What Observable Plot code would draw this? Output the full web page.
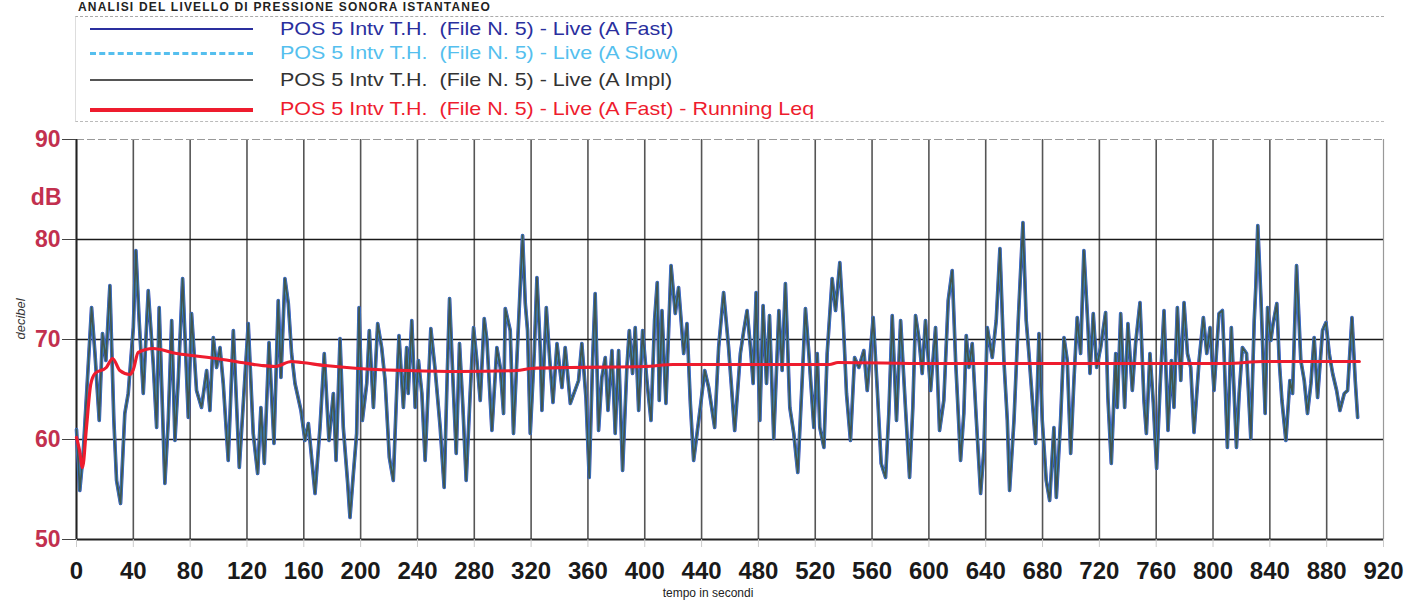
<!DOCTYPE html>
<html><head><meta charset="utf-8">
<script src="https://cdn.jsdelivr.net/npm/d3@7"></script>
<script src="https://cdn.jsdelivr.net/npm/@observablehq/plot@0.6"></script>
<style>
body{margin:0;background:#fff;font-family:"Liberation Sans",Arial,sans-serif;}
#wrap{position:relative;width:1406px;height:603px;overflow:hidden;background:#fff}
#head{position:relative;width:1406px;height:125px}
#title{position:absolute;left:78px;top:1px;font-size:12px;line-height:13px;font-weight:bold;color:#222;white-space:nowrap;letter-spacing:1.2px}
#legend{position:absolute;left:75px;top:16px;width:1308px;height:104px;border-top:1px dashed #aaa;border-bottom:1px dashed #bbb;border-left:1px solid #ddd}
.row{position:absolute;left:0;height:22px;width:900px}
.sw{position:absolute;left:14px;width:163px;top:10px}
.lb{position:absolute;left:204px;top:0;font-size:19px;white-space:nowrap;line-height:22px;transform:scaleX(1.13);transform-origin:left center}
</style></head>
<body><div id="wrap">
<div id="head">
  <div id="title">ANALISI DEL LIVELLO DI PRESSIONE SONORA ISTANTANEO</div>
  <div id="legend"></div>
</div>
<div id="chart"></div>
</div>
<script>
// series names
const seriesNames = [
  "POS 5 Intv T.H.  (File N. 5) - Live (A Fast)",
  "POS 5 Intv T.H.  (File N. 5) - Live (A Slow)",
  "POS 5 Intv T.H.  (File N. 5) - Live (A Impl)",
  "POS 5 Intv T.H.  (File N. 5) - Live (A Fast) - Running Leq"
];
const seriesColors = ["#2a2f9e", "#55bfee", "#444444", "#ee1c2e"];

// time (s) of readings of the instantaneous level trace
const tTrace = [0,2.3,4.7,10.6,13,16,18.3,20.7,23.5,26.3,28.2,31,34,36.4,40,41.8,44.1,47,50.5,54,56.4,58.2,62.2,64.6,67,69.3,71.6,74.7,78.7,81,84.5,88,91.6,93.9,96.3,98.6,101,103.3,106.8,110.4,114.6,
120.9,124.4,127.5,129.8,132.2,135.5,139,142,143.9,146.7,149.1,151.4,153.8,158,160.8,163.2,167.9,171.4,174.4,177.7,180.8,182.7,185.5,187.8,190.9,192.5,194.9,197.2,198.9,201.2,204.3,206.1,209,212,214.8,217.2,220.2,223,225.4,227,230.1,232.4,
233.5,236,238.4,240.7,243.1,245.4,249.4,252.5,256,258.8,260.7,262.6,265.4,267.3,269.6,272,274.3,277.1,279.5,281.8,284.2,287,288.9,292.4,295.9,298.3,300.6,301.8,305.3,307.6,310.7,314,315.9,317.5,319.4,322.2,324.1,326.4,327.6,330.7,333,335.4,338.2,341.7,344,347.6,
353.4,355.7,358.6,360.9,363.3,365.1,367.5,369.8,372.2,374.1,376.9,379.2,381.6,384.4,387.4,389.1,391.4,393.3,395.7,398.5,401.5,404.4,406.9,408.8,410.2,412.1,414.9,418.5,421.5,423.8,427.4,429.7,432.1,434.4,436.8,439.1,442.2,445,449.2,452,455.5,459,463.3,
467.3,469.7,472,474.4,476.3,478.4,481,483.3,485.7,487.8,490.8,494.4,496.7,499,502.1,504.9,507.7,510.8,513.1,515.5,519,521.4,523.2,526.1,528.4,531.9,534.3,537.3,539.7,542,544.8,547.7,550.7,554.2,556.6,560.8,563.6,566.4,569.5,571.8,574.2,577.2,580.1,
583.5,586.4,588.7,590.6,592.9,595.3,597.6,601.2,604.7,607.5,610.5,613.6,616.4,618.8,622.3,624.6,626.3,628.2,630.5,633.3,636.4,638.7,641.1,644.6,647.4,650,652.8,655.2,656.8,659.9,662.9,666.2,668.5,670.4,673.2,675.1,677.5,679.8,682.6,685,688,689.7,692.7,695.1,697.4,
699.8,702.1,704.4,706.8,709.1,712,713.4,715.7,718.1,720.9,724.4,726,728.4,731.5,732.6,735,737.8,740.1,743.2,745.5,748.6,751.4,753.1,755.6,758,760.3,762.7,765.5,768.3,770.7,772.5,774.9,777.3,779.6,782,784.3,786.6,790.2,793.2,795.6,797.9,800.7,804.2,806.6,807.8,810.1,812.9,
816.5,818.4,820.7,823.6,826.6,829,830.1,831.5,833.7,836.7,838.4,840.7,842.3,844.9,846.6,848.5,851.3,854.1,856,858.8,861.8,864.2,866.5,868.9,871.2,873.6,877.1,879.5,881.8,884.2,887,889.3,892.4,894.7,897.8,900.1,901.8];

// dB readings (A Fast / A Slow / A Impl overlap at this scale: same readings)
const levelTrace = [61.0,54.9,58.6,73.2,68.6,61.9,70.6,67.9,75.4,61.9,55.9,53.6,62.6,64.6,71.2,78.9,71.9,64.6,74.9,67.6,61.2,73.2,55.6,61.9,71.9,59.9,65.9,76.1,62.2,72.6,64.9,63.2,66.9,62.9,70.2,67.2,69.2,65.6,57.9,70.9,57.2,
71.6,60.6,56.6,63.2,57.6,69.7,59.6,73.9,66.2,76.1,73.6,68.6,65.6,62.9,59.9,61.6,54.6,61.2,68.6,59.9,64.6,57.9,70.1,61.2,55.6,52.2,56.6,60.6,73.2,61.9,65.6,70.9,63.2,71.6,69.2,65.9,58.2,55.9,64.9,70.4,63.2,69.2,
64.6,71.9,63.2,67.9,64.6,57.9,71.1,66.9,61.2,55.2,65.2,74.1,64.6,58.6,69.6,63.2,55.9,64.6,71.2,67.9,63.9,72.1,69.9,60.9,69.2,67.2,62.6,73.1,70.9,60.6,70.2,80.4,73.6,70.9,60.6,68.6,76.2,69.2,62.9,73.2,68.2,63.7,69.6,65.2,69.2,63.6,
65.9,69.6,64.2,56.2,67.9,74.6,60.9,66.2,68.2,62.9,68.9,60.6,68.9,56.9,67.2,70.9,66.6,71.2,62.9,70.9,65.9,61.9,71.9,75.7,63.9,72.9,63.6,77.4,72.6,75.2,68.6,71.6,63.6,57.9,60.6,63.2,66.9,65.2,61.2,69.2,74.7,69.2,60.9,
68.6,70.9,72.9,69.2,65.6,74.7,61.9,73.4,65.6,72.4,60.1,72.9,66.9,75.6,63.2,60.6,56.7,65.9,73.1,68.6,61.2,68.6,61.2,59.2,68.6,76.1,72.9,77.7,71.9,64.6,59.9,68.2,67.2,68.9,64.9,72.2,65.2,57.6,56.2,62.6,72.4,61.9,71.9,
63.2,56.2,63.2,72.4,70.2,66.6,71.9,64.9,71.2,60.9,63.9,73.9,76.9,67.9,57.9,62.6,70.4,67.2,69.6,62.2,54.6,58.9,71.2,68.2,71.9,79.1,67.9,61.9,54.9,61.9,71.9,81.7,71.9,68.6,63.2,59.6,70.6,61.9,55.9,53.9,61.2,54.2,61.9,70.2,67.9,
58.6,65.9,72.2,68.6,78.9,71.2,66.6,72.6,67.2,69.2,72.7,64.2,57.6,68.6,63.2,72.6,63.2,71.6,64.9,69.6,73.7,63.9,60.6,68.6,63.6,57.1,65.2,72.9,60.9,67.9,63.2,73.2,65.9,73.7,68.6,67.2,60.7,67.9,72.2,68.6,71.2,64.9,72.6,72.9,68.6,59.2,71.2,
59.2,64.6,69.2,68.6,60.1,71.9,75.2,81.4,74.2,62.6,73.2,69.9,71.6,73.6,67.9,63.9,59.9,65.9,64.6,77.4,67.9,65.9,62.6,65.6,70.2,64.2,70.9,71.7,68.6,66.6,64.9,62.9,64.6,64.9,72.2,65.9,62.2];

// running Leq
const tLeq = [0,2,4.2,7,10,13,21,25.4,30.5,37.6,40,43.4,54,70.4,81,98.6,116,130.3,139.7,151.4,158.5,174.9,198.4,232.4,270,310,320,348,400,420,465,530,536,600,700,810,835,903];
const levelLeq = [60.2,59.0,57.2,61.2,65.5,66.6,67.2,68.1,66.9,66.5,67.0,68.7,69.1,68.6,68.4,68.1,67.7,67.4,67.3,67.8,67.7,67.4,67.1,66.9,66.8,66.9,67.1,67.2,67.3,67.5,67.5,67.5,67.7,67.6,67.6,67.6,67.8,67.8];

const xTicks = [0,40,80,120,160,200,240,280,320,360,400,440,480,520,560,600,640,680,720,760,800,840,880,920];
const yTicks = [50,60,70,80,90];

// legend
const legend = document.getElementById("legend");
const rowTops = [1, 25, 52, 81];
const swatchStyles = [
  "border-top:2px solid " + seriesColors[0],
  "border-top:3px dashed " + seriesColors[1],
  "border-top:2px solid #555",
  "border-top:4px solid " + seriesColors[3]
];
seriesNames.forEach((n, i) => {
  const r = document.createElement("div");
  r.className = "row"; r.style.top = rowTops[i] + "px";
  r.innerHTML = `<div class="sw" style="${swatchStyles[i]}"></div><div class="lb" style="color:${i===2?"#333":seriesColors[i]}">${n.replace(/ {2}/g," &nbsp;")}</div>`;
  legend.appendChild(r);
});

const trace = tTrace.map((t, i) => ({t, v: levelTrace[i]}));
const leq = tLeq.map((t, i) => ({t, v: levelLeq[i]}));

const chart = Plot.plot({
  width: 1406, height: 478,
  marginLeft: 76, marginRight: 23, marginTop: 14, marginBottom: 64,
  style: {fontFamily: "'Liberation Sans', Arial, sans-serif", background: "#fff", overflow: "visible"},
  x: {domain: [0, 920], label: null},
  y: {domain: [50, 90], label: null},
  marks: [
    Plot.ruleX(xTicks.slice(0, -1), {stroke: "#555", strokeWidth: 1.6}),
    Plot.ruleX([920], {stroke: "#999", strokeWidth: 1.2}),
    Plot.ruleY([60, 70, 80], {stroke: "#1a1a1a", strokeWidth: 1.6}),
    Plot.ruleY([90], {stroke: "#999", strokeWidth: 1, strokeDasharray: "8,3"}),
    Plot.ruleY([50], {stroke: "#222", strokeWidth: 1.8}),
    Plot.ruleX([0], {stroke: "#222", strokeWidth: 1.8}),
    Plot.axisX({ticks: xTicks, tickSize: 8, tickPadding: 14, fontSize: 24, fontWeight: "bold", stroke: "#ccc", color: "#1a1a1a", tickFormat: d => d}),
    Plot.axisY({ticks: yTicks, tickSize: 14, tickPadding: 2, fontSize: 23, fontWeight: "bold", stroke: "#444", color: "#c2304f", tickFormat: d => d}),
    Plot.text(["dB"], {frameAnchor: "top-left", dx: -15, dy: 49, textAnchor: "end", fontSize: 23, fontWeight: "bold", fill: "#c2304f"}),
    Plot.text(["decibel"], {frameAnchor: "left", dx: -56, dy: 0, rotate: -90, fontSize: 13, fontStyle: "italic", fill: "#333"}),
    Plot.text(["tempo in secondi"], {frameAnchor: "bottom", dx: -22, dy: 57, fontSize: 12, fill: "#222"}),
    Plot.line(trace, {x: "t", y: "v", stroke: "#3346b4", strokeWidth: 3.6}),
    Plot.line(trace, {x: "t", y: "v", stroke: "#3f98d8", strokeWidth: 2.6}),
    Plot.line(trace, {x: "t", y: "v", stroke: "#41554f", strokeWidth: 1.8}),
    Plot.line(leq, {x: "t", y: "v", stroke: seriesColors[3], strokeWidth: 3.2, curve: "monotone-x"})
  ]
});
document.getElementById("chart").appendChild(chart);
</script>
</body></html>
